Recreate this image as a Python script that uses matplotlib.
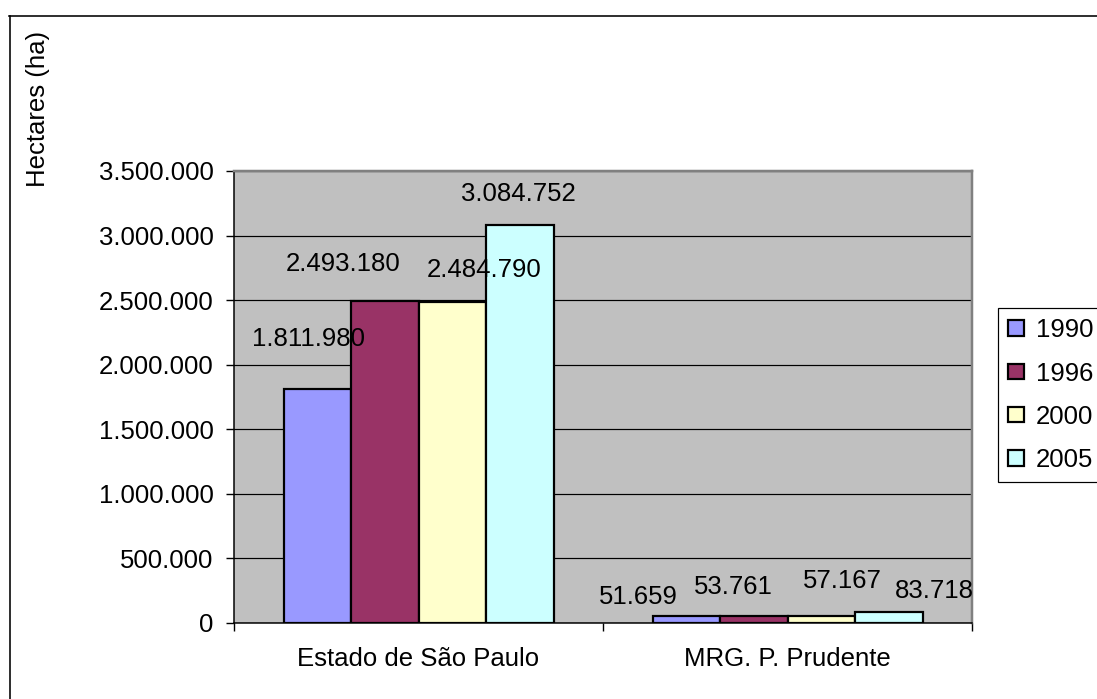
import numpy as np
import matplotlib.pyplot as plt
from matplotlib.lines import Line2D
from matplotlib.ticker import FuncFormatter

plt.rcParams['font.family'] = ['Liberation Sans', 'DejaVu Sans']

categories = ['Estado de São Paulo', 'MRG. P. Prudente']
years = ['1990', '1996', '2000', '2005']
v1990 = [1811980, 51659]
v1996 = [2493180, 53761]
v2000 = [2484790, 57167]
v2005 = [3084752, 83718]
series = [v1990, v1996, v2000, v2005]

colors = ['#9999FF', '#993366', '#FFFFCC', '#CCFFFF']
# label shifts in pixels (dx, dy) from bar top, to mimic excel placement
shift = [[(-9, 50), (-48, 19)],
         [(-42, 37), (-20, 29)],
         [(32, 32), (21, 35)],
         [(-1, 31), (46, 21)]]

W, H = 1097, 699
fig = plt.figure(figsize=(W / 100, H / 100), dpi=100)
ax = fig.add_axes([234 / W, 1 - 623 / H, (972 - 234) / W, (623 - 171) / H])
ax.set_facecolor('#C0C0C0')

fs = 18.5
px = 72 / 100  # pixel -> points
bw = 67.5 / 369
x = np.arange(len(categories))
for i, vals in enumerate(series):
    xs = x + (i - 1.5) * bw
    ax.bar(xs, vals, bw, color=colors[i], edgecolor='black', linewidth=2.2 * px,
           label=years[i], zorder=3)
    for j, v in enumerate(vals):
        dx, dy = shift[i][j]
        ax.annotate(f'{v:,}'.replace(',', '.'), (xs[j], v),
                    xytext=(dx * px, dy * px), textcoords='offset points',
                    ha='center', va='center', fontsize=fs, zorder=4)

ax.set_xlim(-0.5, 1.5)
ax.set_ylim(0, 3500000)
ax.set_yticks(np.arange(0, 3500001, 500000))
ax.yaxis.set_major_formatter(FuncFormatter(lambda v, p: f'{int(v):,}'.replace(',', '.')))
ax.grid(axis='y', color='black', linewidth=1.2 * px, zorder=1)

ax.set_xticks([-0.5, 0.5, 1.5])
ax.set_xticklabels([])
ax.set_xticks(x, minor=True)
ax.set_xticklabels(categories, minor=True, fontsize=fs)
ax.tick_params(axis='x', which='minor', length=0, pad=17)
ax.tick_params(axis='x', which='major', length=8 * px, width=1.4 * px)
ax.tick_params(axis='y', length=8 * px, width=1.4 * px, labelsize=fs, pad=9)

for s in ['left', 'bottom']:
    ax.spines[s].set_color('black')
    ax.spines[s].set_linewidth(1.5 * px)
for s in ['top', 'right']:
    ax.spines[s].set_color('#808080')
    ax.spines[s].set_linewidth(2.5 * px)

fig.text(38 / W, 1 - 109 / H, 'Hectares (ha)', rotation=90, ha='center', va='center',
         fontsize=fs)

# outer chart frame (only left and top visible)
fig.add_artist(Line2D([9.5 / W, 9.5 / W], [0, 1 - 16 / H], color='black',
                      linewidth=1.6 * px, transform=fig.transFigure))
fig.add_artist(Line2D([9 / W, 1], [1 - 16 / H, 1 - 16 / H], color='black',
                      linewidth=1.6 * px, transform=fig.transFigure))

leg = fig.legend(loc='upper left', bbox_to_anchor=(998 / W, 1 - 308 / H),
                 borderaxespad=0, fontsize=fs, fancybox=False, edgecolor='black',
                 framealpha=1, handlelength=0.6, handleheight=0.55,
                 handletextpad=0.47, labelspacing=0.75, borderpad=0.4)
leg.get_frame().set_linewidth(1.2 * px)
for h in leg.legend_handles:
    h.set_linewidth(2.2 * px)

fig.savefig('out.png', dpi=100)
